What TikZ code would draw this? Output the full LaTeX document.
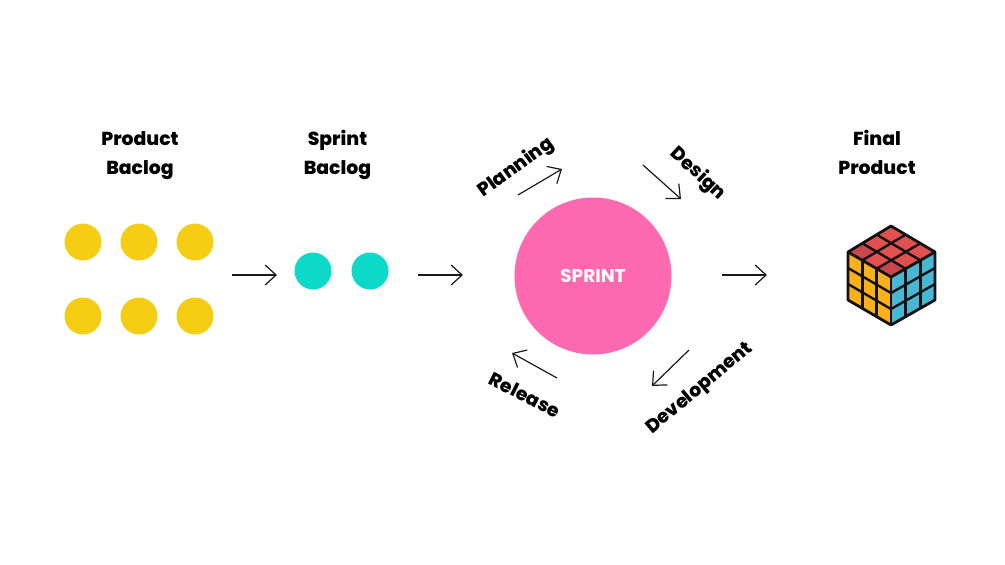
\documentclass[tikz,border=0pt]{standalone}
\usepackage{fontspec}
\setmainfont{Poppins}[BoldFont={Poppins ExtraBold}]
\newfontfamily\labelfont{Poppins}[Scale=1,UprightFont={* Bold}]
\usetikzlibrary{arrows.meta}
\usetikzlibrary{calc}
\definecolor{dotyellow}{HTML}{F6CD15}
\definecolor{dotteal}{HTML}{0DD9C8}
\definecolor{sprintpink}{HTML}{FF69B0}
\definecolor{cubered}{HTML}{E2504F}
\definecolor{cubedark}{HTML}{C9474A}
\definecolor{cubeyellow}{HTML}{FDB118}
\definecolor{cubeblue}{HTML}{46B8D3}
\definecolor{cubeline}{HTML}{111111}
\tikzset{t/.style={font=\fontsize{18.8}{29}\selectfont\bfseries,align=center,text=black}}
\tikzset{r/.style={font=\fontsize{18.8}{18.8}\selectfont\bfseries,text=black}}
\tikzset{dot/.style={circle,minimum size=37pt,inner sep=0pt}}
\tikzset{flow/.style={draw=black!90,line width=1.2pt,-{Straight Barb[length=11pt,width=20pt,line width=1.2pt]}}}
\tikzset{face/.style={draw=cubeline,line width=2.8pt,line join=round}}
\tikzset{grid/.style={draw=cubeline,line width=2.4pt}}

\begin{document}
\begin{tikzpicture}[x=1pt,y=-1pt]
      \useasboundingbox (0,0) rectangle (1005,565);
      \node [t] (PB) at (140,155.5) {Product\\Baclog};
      \node [t] (SB) at (337.5,154.5) {Sprint\\Baclog};
      \node [t] (FP) at (877,152) {Final\\Product};
      \foreach \i/\x in {1/83,2/139,3/195} {
        \node [dot,fill=dotyellow] (up\i) at (\x,242) {};
        \node [dot,fill=dotyellow] (lo\i) at (\x,316) {};
      }
      \node [dot,fill=dotteal] (s1) at (313,271) {};
      \node [dot,fill=dotteal] (s2) at (370,271) {};
      \node [circle,fill=sprintpink,minimum size=157pt,inner sep=0pt,text=white,
        font=\fontsize{18.5}{18.5}\selectfont\labelfont] (S) at (593,276) {SPRINT};
      \node [r,rotate=36] (plan) at (516,168) {Planning};
      \node [r,rotate=-43] (des) at (698,174) {Design};
      \node [r,rotate=40] (dev) at (700,389) {Development};
      \node [r,rotate=-27] (rel) at (525,395) {Release};
      % arrow ends
      \coordinate (a1) at (232,275);
      \coordinate (a2) at (277,275);
      \coordinate (b1) at (418,275);
      \coordinate (b2) at (463,275);
      \coordinate (c1) at (722,275);
      \coordinate (c2) at (767,275);
      \coordinate (p1) at (518,195);
      \coordinate (p2) at (562,169);
      \coordinate (d1) at (643,165);
      \coordinate (d2) at (681,199);
      \coordinate (v1) at (689,350);
      \coordinate (v2) at (652,386);
      \coordinate (e1) at (557,378);
      \coordinate (e2) at (512,353);
      \foreach \f/\g in {a1/a2,b1/b2,c1/c2,p1/p2,d1/d2,v1/v2,e1/e2}
        \draw [flow] (\f) -- (\g);
      % cube
      \coordinate (T) at (891,226);
      \coordinate (L) at (848,252);
      \coordinate (R) at (935,252);
      \coordinate (C) at (891,277);
      \coordinate (B) at (891,325);
      \coordinate (LB) at (848,300);
      \coordinate (RB) at (935,300);
      \fill [cubered] (T) -- (R) -- (C) -- (L) -- cycle;
      \fill [cubedark] (L) -- ($(L)!0.333!(T)$) -- ($(L)!0.333!(R)$) -- ($(L)!0.333!(C)$) -- cycle;
      \fill [cubedark] (C) -- ($(C)!0.333!(L)$) -- ($(C)!0.333!(T)$) -- ($(C)!0.333!(R)$) -- cycle;
      \fill [cubeyellow] (L) -- (C) -- (B) -- (LB) -- cycle;
      \fill [cubeblue] (C) -- (R) -- (RB) -- (B) -- cycle;
      \foreach \k in {0.333,0.667} {
        \draw [grid] ($(T)!\k!(R)$) -- ($(L)!\k!(C)$);
        \draw [grid] ($(T)!\k!(L)$) -- ($(R)!\k!(C)$);
        \draw [grid] ($(L)!\k!(C)$) -- ($(LB)!\k!(B)$);
        \draw [grid] ($(L)!\k!(LB)$) -- ($(C)!\k!(B)$);
        \draw [grid] ($(C)!\k!(R)$) -- ($(B)!\k!(RB)$);
        \draw [grid] ($(C)!\k!(B)$) -- ($(R)!\k!(RB)$);
      }
      \draw [face] (T) -- (R) -- (RB) -- (B) -- (LB) -- (L) -- cycle;
      \draw [face] (L) -- (C) -- (R);
      \draw [face] (C) -- (B);
    \end{tikzpicture}
\end{document}
